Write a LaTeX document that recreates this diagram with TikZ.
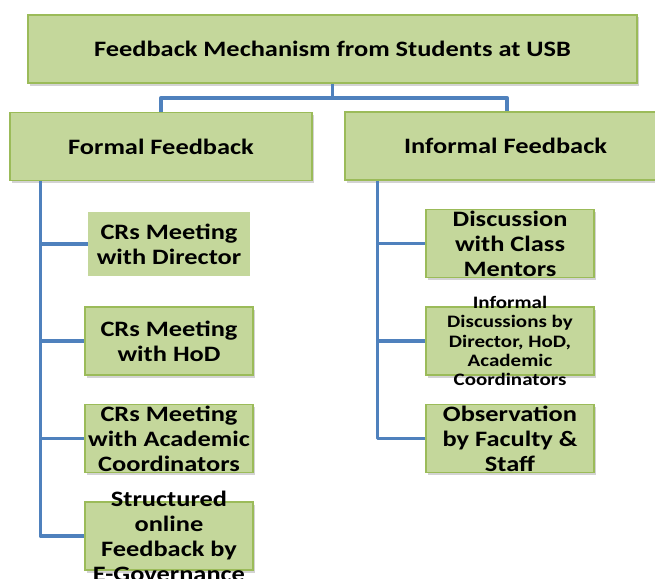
\documentclass[tikz,border=0pt]{standalone}
\usepackage{fontspec}
\setmainfont{Carlito}[FakeStretch=1.2]
\usetikzlibrary{shadows}

\definecolor{boxfill}{HTML}{C4D79B}
\definecolor{boxline}{HTML}{9BBB59}
\definecolor{linkblue}{HTML}{4F81BD}

\tikzset{
  box/.style={rectangle, draw=boxline, line width=1.5pt, fill=boxfill,
    inner sep=0pt, minimum height=68pt,
    drop shadow={shadow xshift=2pt, shadow yshift=-2.5pt, opacity=0.35}},
  plainbox/.style={rectangle, fill=boxfill, inner sep=0pt, minimum height=64pt},
  txt/.style={align=center, inner sep=0pt, font=\bfseries\fontsize{22}{25}\selectfont},
  smalltxt/.style={align=center, inner sep=0pt, font=\bfseries\fontsize{17.5}{19.3}\selectfont},
  link/.style={draw=linkblue, line width=3.5pt, line join=round}
}

\begin{document}
\begin{tikzpicture}[x=1pt,y=-1pt]
\useasboundingbox (0,0) rectangle (655,578);

% top and second level
\node[box, minimum width=609pt] (top) at (332.5,49) {};
\node[txt] (topt) at (top.center) {Feedback Mechanism from Students at USB};
\node[box, minimum width=302pt] (formal) at (161,146.5) {};
\node[txt] (formalt) at (formal.center) {Formal Feedback};
\node[box, minimum width=321pt] (informal) at (505.5,146) {};
\node[txt] (informalt) at (informal.center) {Informal Feedback};

% formal branch
\node[plainbox, minimum width=162pt] (f1) at (169,244) {};
\node[txt] (f1t) at (f1.center) {CRs Meeting\\with Director};
\node[box, minimum width=168pt] (f2) at (169,341) {};
\node[txt] (f2t) at (f2.center) {CRs Meeting\\with HoD};
\node[box, minimum width=168pt] (f3) at (169,438.5) {};
\node[txt] (f3t) at (f3.center) {CRs Meeting\\with Academic\\Coordinators};
\node[box, minimum width=168pt] (f4) at (169,536) {};
\node[txt] (f4t) at (f4.center) {Structured\\online\\Feedback by\\E-Governance};

% informal branch
\node[box, minimum width=168pt] (i1) at (510,243.5) {};
\node[txt] (i1t) at (i1.center) {Discussion\\with Class\\Mentors};
\node[box, minimum width=168pt] (i2) at (510,341) {};
\node[smalltxt] (i2t) at (i2.center) {Informal\\Discussions by\\Director, HoD,\\Academic\\Coordinators};
\node[box, minimum width=168pt] (i3) at (510,438.5) {};
\node[txt] (i3t) at (i3.center) {Observation\\by Faculty \&\\Staff};

% connectors
\coordinate (mid) at ([yshift=-14pt]top.south);
\draw[link] (top.south) -- (mid) -| (formal.north);
\draw[link] (mid) -| ([xshift=1.5pt]informal.north);

\coordinate (ft) at ([xshift=31pt]formal.south west);
\draw[link] (ft) |- (f4.west);
\foreach \n in {f1,f2,f3}
  \draw[link] (ft |- \n.west) -- (\n.west);

\coordinate (it) at ([xshift=33pt]informal.south west);
\draw[link] (it) |- (i3.west);
\foreach \n in {i1,i2}
  \draw[link] (it |- \n.west) -- (\n.west);
\end{tikzpicture}
\end{document}
